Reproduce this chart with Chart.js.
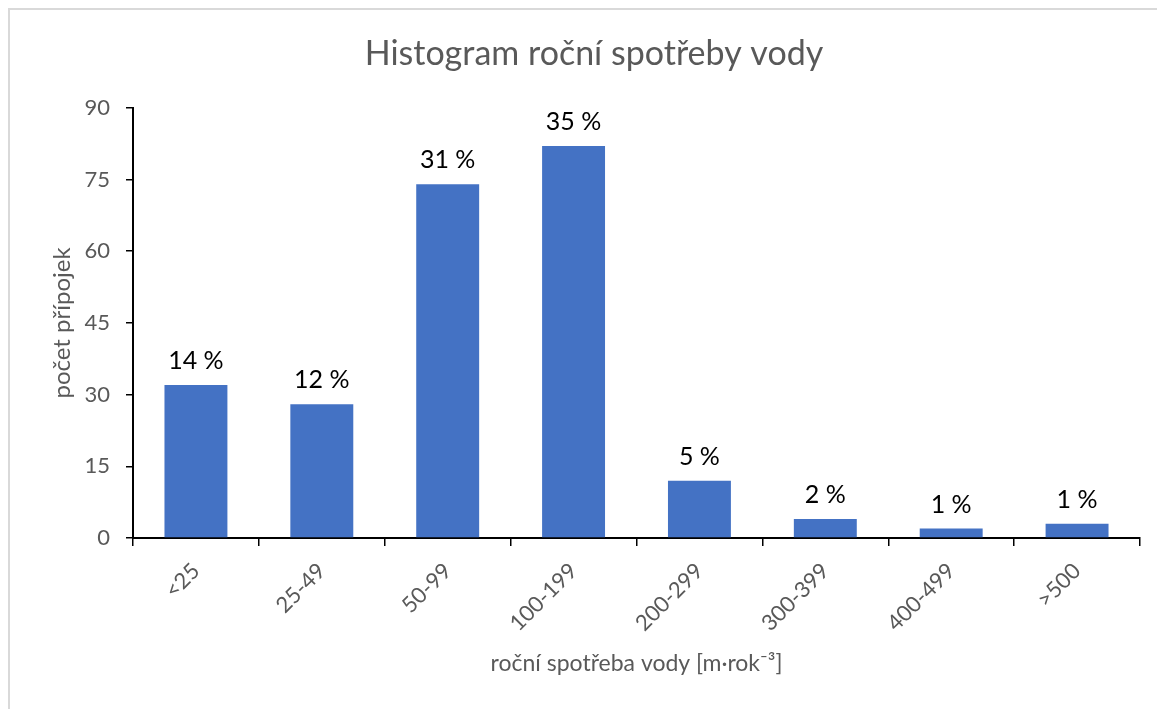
<!DOCTYPE html>
<html><head><meta charset="utf-8">
<script src="https://cdn.jsdelivr.net/npm/chart.js@4"></script>
<style>html,body{margin:0;padding:0;background:#fff;overflow:hidden}#wrap{width:1157px;height:709px;position:relative}</style>
</head><body><div id="wrap"><canvas id="c" width="1157" height="709"></canvas></div>
<script>
const categories = ['<25','25-49','50-99','100-199','200-299','300-399','400-499','>500'];
const counts = [32, 28, 74, 82, 12, 4, 2, 3];
const yTickValues = [0, 15, 30, 45, 60, 75, 90];
const chartTitle = 'Histogram roční spotřeby vody';
const xAxisTitle = 'roční spotřeba vody [m·rok⁻³]';
const yAxisTitle = 'počet přípojek';

const FONT = 'Lato, "Open Sans", sans-serif';
const GRAY = '#595959';
const total = counts.reduce((a, b) => a + b, 0);
const pctLabels = counts.map(v => Math.round(v / total * 100) + ' %');

const PAD_LEFT = 48, PAD_BOTTOM = 30, PAD_RIGHT = 17;
const AXIS_X = 133, AXIS_Y = 538;

const frame = {
  id: 'frame',
  beforeDraw(chart) {
    const ctx = chart.ctx;
    ctx.save();
    ctx.fillStyle = '#fff';
    ctx.fillRect(0, 0, chart.width, chart.height);
    ctx.strokeStyle = '#d9d9d9';
    ctx.lineWidth = 2;
    ctx.strokeRect(9, 9, chart.width + 20, chart.height + 20);
    ctx.restore();
  }
};

const barLabels = {
  id: 'barLabels',
  afterDatasetsDraw(chart) {
    const ctx = chart.ctx;
    const meta = chart.getDatasetMeta(0);
    ctx.save();
    ctx.fillStyle = '#000';
    ctx.font = '25px ' + FONT;
    ctx.textAlign = 'center';
    ctx.textBaseline = 'middle';
    meta.data.forEach((bar, i) => {
      ctx.fillText(pctLabels[i], bar.x, bar.y - 24);
    });
    ctx.restore();
  }
};

new Chart(document.getElementById('c'), {
  type: 'bar',
  data: {
    labels: categories,
    datasets: [{
      data: counts,
      backgroundColor: '#4472C4',
      borderWidth: 0,
      barPercentage: 0.5,
      categoryPercentage: 1.0
    }]
  },
  options: {
    responsive: false,
    animation: false,
    devicePixelRatio: 1,
    layout: { padding: { left: PAD_LEFT, right: PAD_RIGHT, bottom: PAD_BOTTOM, top: 0 } },
    plugins: {
      legend: { display: false },
      tooltip: { enabled: false },
      title: {
        display: true,
        text: chartTitle,
        color: GRAY,
        font: { family: FONT, size: 34, weight: 'normal' },
        padding: { top: 34, bottom: 33 }
      }
    },
    scales: {
      x: {
        offset: true,
        grid: { display: true, offset: true, drawOnChartArea: false, drawTicks: true, tickLength: 8, color: '#000', lineWidth: 1.5 },
        border: { display: true, color: '#000', width: 2 },
        ticks: { color: GRAY, font: { family: FONT, size: 22 }, minRotation: 45, maxRotation: 45, padding: 12, autoSkip: false },
        title: { display: true, text: xAxisTitle, color: GRAY, font: { family: FONT, size: 23 }, padding: { top: 0, bottom: 2 } },
        afterFit(s) { s.height = 709 - AXIS_Y - PAD_BOTTOM; }
      },
      y: {
        min: 0, max: 90,
        afterBuildTicks(s) { s.ticks = yTickValues.map(v => ({ value: v })); },
        grid: { display: true, drawOnChartArea: false, drawTicks: true, tickLength: 7, color: '#000', lineWidth: 1.5 },
        border: { display: true, color: '#000', width: 2 },
        ticks: { color: GRAY, font: { family: FONT, size: 22 }, padding: 16 },
        title: { display: true, text: yAxisTitle, color: GRAY, font: { family: FONT, size: 24 }, padding: { top: 0, bottom: 0 } },
        afterFit(s) { s.width = AXIS_X - PAD_LEFT; }
      }
    }
  },
  plugins: [frame, barLabels]
});
</script>
</body></html>
